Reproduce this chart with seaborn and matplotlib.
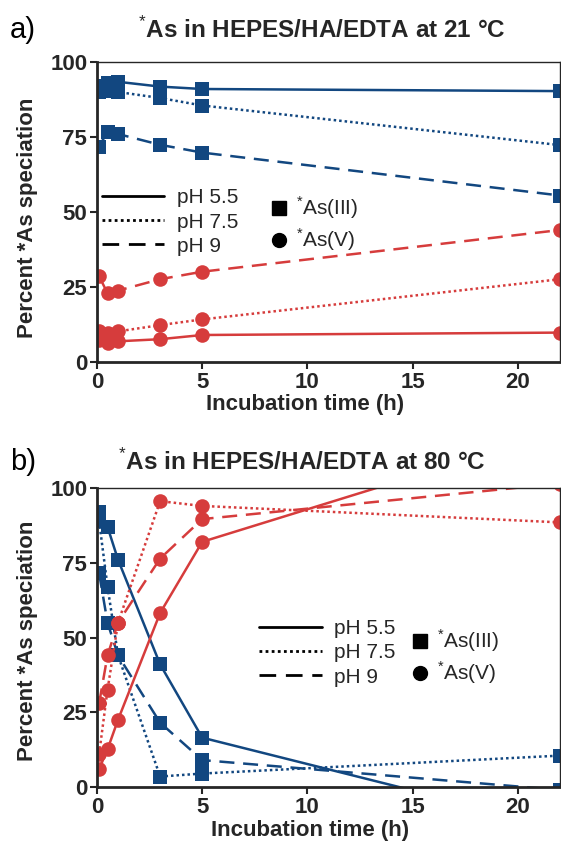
import matplotlib
matplotlib.use("Agg")
import matplotlib.pyplot as plt
from matplotlib.lines import Line2D
from matplotlib import font_manager
import seaborn as sns

# incubation times (h)
time_h = [0.1, 0.5, 1, 3, 5, 22]

# a) 21 °C, percent speciation
a_as3_ph55 = [92, 93, 93.4, 91.8, 91, 90.3]
a_as3_ph75 = [90, 90.2, 90, 88, 85.5, 72.3]
a_as3_ph9 = [71.8, 76.8, 76, 72.4, 69.8, 55.5]
a_as5_ph55 = [7.4, 6.3, 6.9, 7.6, 9, 9.8]
a_as5_ph75 = [10.2, 9.6, 10.2, 12.3, 14.2, 27.6]
a_as5_ph9 = [28.6, 22.9, 23.8, 27.6, 30.1, 44]

# b) 80 °C
b_as3_ph55 = [92, 87, 76, 41, 16.5, -13.5]
b_as3_ph75 = [89, 67, 44, 3.5, 4.5, 10.5]
b_as3_ph9 = [71.5, 55, 44, 21.5, 9, -1]
b_as5_ph55 = [6, 12.6, 22.5, 58.2, 82, 119]
b_as5_ph75 = [11, 32.5, 55, 95.6, 94, 88.5]
b_as5_ph9 = [28, 44, 55, 76.4, 89.6, 101.5]

ph_labels = ["pH 5.5", "pH 7.5", "pH 9"]
species_labels = ["$^{*}$As(III)", "$^{*}$As(V)"]
y_ticks = [0, 25, 50, 75, 100]
x_ticks = [0, 5, 10, 15, 20]

BLUE = "#124780"
RED = "#d63c3c"
styles = ["-", (0, (1, 1.2)), (0, (6, 3.5))]

sns.set_style("ticks")
names = {f.name for f in font_manager.fontManager.ttflist}
main_font = "Liberation Sans Narrow" if "Liberation Sans Narrow" in names else "Liberation Sans"
plt.rcParams["font.family"] = [main_font, "DejaVu Sans"]
plt.rcParams["mathtext.fontset"] = "custom"
plt.rcParams["mathtext.rm"] = main_font
plt.rcParams["mathtext.bf"] = main_font + ":bold"

fig = plt.figure(figsize=(5.61, 8.51), dpi=100)
W, H = 561, 851


def px_axes(left, top, right, bottom):
    return fig.add_axes([left / W, 1 - bottom / H, (right - left) / W, (bottom - top) / H])


def draw_panel(ax, as3, as5):
    for vals, ls in zip(as3, styles):
        sns.lineplot(x=time_h, y=vals, ax=ax, color=BLUE, linestyle=ls, lw=1.8,
                     marker="s", markersize=10.5, markeredgewidth=0)
    for vals, ls in zip(as5, styles):
        sns.lineplot(x=time_h, y=vals, ax=ax, color=RED, linestyle=ls, lw=1.8,
                     marker="o", markersize=10.5, markeredgewidth=0)
    ax.set_xlim(0, 22)
    ax.set_ylim(0, 100)
    ax.set_xticks(x_ticks)
    ax.set_yticks(y_ticks)
    ax.tick_params(direction="out", length=5, width=1.5, labelsize=16, pad=2)
    for lab in ax.get_xticklabels() + ax.get_yticklabels():
        lab.set_fontweight("bold")
    for side in ["left", "bottom"]:
        ax.spines[side].set_linewidth(2)
    for side in ["top", "right"]:
        ax.spines[side].set_linewidth(1)
    ax.set_xlabel("Incubation time (h)", fontsize=16, fontweight="bold")
    ax.set_ylabel("Percent *As speciation", fontsize=16, fontweight="bold")


def add_legends(ax, pos_lines, pos_marks):
    line_h = [Line2D([], [], color="black", lw=2, linestyle=ls) for ls in styles]
    leg1 = ax.legend(line_h, ph_labels, loc="center left", bbox_to_anchor=pos_lines,
                     frameon=False, fontsize=15, handlelength=3.0, handletextpad=0.6,
                     labelspacing=0.25, borderpad=0, borderaxespad=0)
    ax.add_artist(leg1)
    mark_h = [Line2D([], [], color="black", lw=0, marker=m, markersize=10) for m in ["s", "o"]]
    ax.legend(mark_h, species_labels, loc="center left", bbox_to_anchor=pos_marks,
              frameon=False, fontsize=15, handlelength=0.8, handletextpad=0.4,
              labelspacing=0.25, borderpad=0, borderaxespad=0)


# panel a
ax_a = px_axes(97, 62, 560, 362)
draw_panel(ax_a, [a_as3_ph55, a_as3_ph75, a_as3_ph9], [a_as5_ph55, a_as5_ph75, a_as5_ph9])
ax_a.xaxis.set_label_coords((305 - 97) / 463, (362 - 394) / 300)
ax_a.yaxis.set_label_coords((38 - 97) / 463, 0.48)
add_legends(ax_a, (0.01, (362 - 222) / 300), (0.375, (362 - 224) / 300))

# panel b
ax_b = px_axes(97, 488, 560, 787)
draw_panel(ax_b, [b_as3_ph55, b_as3_ph75, b_as3_ph9], [b_as5_ph55, b_as5_ph75, b_as5_ph9])
ax_b.xaxis.set_label_coords((310 - 97) / 463, (787 - 820) / 299)
ax_b.yaxis.set_label_coords((38 - 97) / 463, 0.49)
add_legends(ax_b, (0.35, (787 - 653) / 299), (0.68, (787 - 657) / 299))

# titles and panel letters
fig.text(322 / W, 1 - 30 / H, "$^{*}$As in HEPES/HA/EDTA at 21 °C", ha="center", va="center",
         fontsize=17.5, fontweight="bold")
fig.text(302 / W, 1 - 462 / H, "$^{*}$As in HEPES/HA/EDTA at 80 °C", ha="center", va="center",
         fontsize=17.5, fontweight="bold")
fig.text(10 / W, 1 - 30 / H, "a)", ha="left", va="center", fontsize=21, color="black",
         family=["Liberation Sans", "DejaVu Sans"])
fig.text(10 / W, 1 - 462 / H, "b)", ha="left", va="center", fontsize=21, color="black",
         family=["Liberation Sans", "DejaVu Sans"])

fig.savefig("out.png", dpi=100)
